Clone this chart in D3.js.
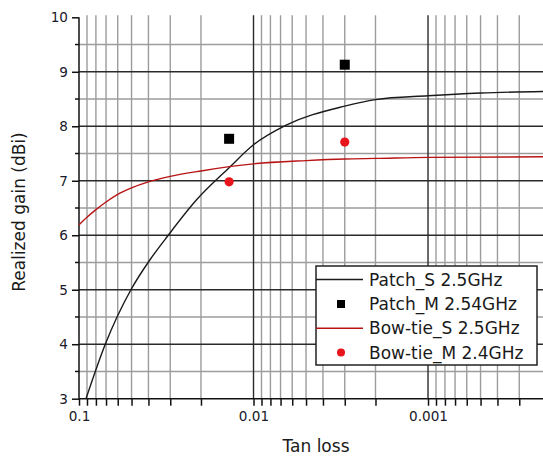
<!DOCTYPE html>
<html>
<head>
<meta charset="utf-8">
<script src="https://cdn.jsdelivr.net/npm/d3@7"></script>
<style>
  body { margin: 0; background: #fff; }
  svg { display: block; font-family: "DejaVu Sans", sans-serif; }
</style>
</head>
<body>
<div id="chart"></div>
<script>
// series (tan loss, realized gain in dBi)
var patchSTan = [0.0912, 0.0707, 0.0504, 0.0392, 0.0308, 0.0212, 0.0138, 0.01, 0.0065, 0.003, 0.002, 0.001, 0.0005, 0.0002];
var patchSGain = [3.0, 4.0, 5.0, 5.55, 6.0, 6.65, 7.24, 7.66, 8.02, 8.37, 8.49, 8.56, 8.61, 8.64];

var bowSTan = [0.1, 0.09, 0.08, 0.07, 0.06, 0.05, 0.04, 0.03, 0.02, 0.01, 0.005, 0.003, 0.002, 0.001, 0.0002];
var bowSGain = [6.19, 6.33, 6.47, 6.61, 6.75, 6.87, 6.98, 7.08, 7.18, 7.31, 7.37, 7.40, 7.41, 7.43, 7.44];

var patchMTan = [0.0138, 0.003];
var patchMGain = [7.77, 9.13];

var bowMTan = [0.0138, 0.003];
var bowMGain = [6.98, 7.71];

var yTicks = [3, 4, 5, 6, 7, 8, 9, 10];
var xMajor = [0.1, 0.01, 0.001];
var xLabels = ['0.1', '0.01', '0.001'];

var legendNames = ['Patch_S 2.5GHz', 'Patch_M 2.54GHz', 'Bow-tie_S 2.5GHz', 'Bow-tie_M 2.4GHz'];

var W = 543, H = 456;
var pLeft = 79, pTop = 17.3, pBottom = 398.7, pRight = 550;

var x = d3.scaleLog()
    .domain([0.1, 0.0002])
    .range([pLeft, pRight]);

var y = d3.scaleLinear()
    .domain([3, 10])
    .range([pBottom, pTop]);

var svg = d3.select('#chart').append('svg')
    .attr('width', W)
    .attr('height', H);

// minor tick values for x (2..9 in each decade)
var xMinor = x.ticks().filter(function (d) {
    var l = Math.log10(d);
    return Math.abs(l - Math.round(l)) > 1e-6;
});
var yMinor = d3.range(3.5, 10, 1);

var grid = svg.append('g');
grid.selectAll('line.vminor').data(xMinor)
    .enter().append('line')
    .attr('x1', function (d) { return x(d); })
    .attr('x2', function (d) { return x(d); })
    .attr('y1', pTop - 2).attr('y2', pBottom)
    .style('stroke', '#9c9c9c').style('stroke-width', 1.4);
grid.selectAll('line.hminor').data(yMinor)
    .enter().append('line')
    .attr('x1', pLeft).attr('x2', W)
    .attr('y1', function (d) { return y(d); })
    .attr('y2', function (d) { return y(d); })
    .style('stroke', '#9c9c9c').style('stroke-width', 1.4);
grid.selectAll('line.hmajor').data(yTicks.filter(function (d) { return d > 3 && d < 10; }))
    .enter().append('line')
    .attr('x1', pLeft).attr('x2', W)
    .attr('y1', function (d) { return y(d); })
    .attr('y2', function (d) { return y(d); })
    .style('stroke', '#2a2a2a').style('stroke-width', 1.4);
grid.selectAll('line.vmajor').data(xMajor.slice(1))
    .enter().append('line')
    .attr('x1', function (d) { return x(d); })
    .attr('x2', function (d) { return x(d); })
    .attr('y1', pTop - 2).attr('y2', pBottom)
    .style('stroke', '#2a2a2a').style('stroke-width', 1.4);

// axes
var yAxis = d3.axisLeft(y).tickValues(yTicks).tickSize(7).tickPadding(4).tickFormat(d3.format('d'));
var gy = svg.append('g').attr('transform', 'translate(' + pLeft + ',0)').call(yAxis);
gy.select('.domain').remove();
gy.append('line').attr('x1', 0).attr('x2', 0).attr('y1', pTop).attr('y2', pBottom)
    .style('stroke', '#111').style('stroke-width', 1.5);
gy.selectAll('.tick line').style('stroke', '#111').style('stroke-width', 1.5);
gy.selectAll('.minor').data(yMinor).enter().append('line')
    .attr('x1', -4).attr('x2', 0)
    .attr('y1', function (d) { return y(d); })
    .attr('y2', function (d) { return y(d); })
    .style('stroke', '#111').style('stroke-width', 1.5);

var xAxis = d3.axisBottom(x)
    .tickValues(xMajor.concat(xMinor.filter(function (d) { return x(d) < W; })))
    .tickSize(7).tickPadding(6)
    .tickFormat(function (d) {
        var i = xMajor.indexOf(d);
        return i >= 0 ? xLabels[i] : '';
    });
var gx = svg.append('g').attr('transform', 'translate(0,' + pBottom + ')').call(xAxis);
gx.select('.domain').remove();
gx.append('line').attr('x1', pLeft).attr('x2', W).attr('y1', 0).attr('y2', 0)
    .style('stroke', '#111').style('stroke-width', 1.5);
gx.selectAll('.tick line').style('stroke', '#111').style('stroke-width', 1.5);

svg.selectAll('.tick text')
    .style('font-family', '"DejaVu Sans", sans-serif')
    .style('font-size', '13.6px')
    .style('fill', '#1a1a2a');

// axis titles
svg.append('text')
    .attr('x', 316).attr('y', 452)
    .attr('text-anchor', 'middle')
    .style('font-size', '17px').style('fill', '#1a1a1a')
    .text('Tan loss');
svg.append('text')
    .attr('transform', 'translate(25,212) rotate(-90)')
    .attr('text-anchor', 'middle')
    .style('font-size', '17px').style('fill', '#1a1a1a')
    .text('Realized gain (dBi)');

// curves
var line = d3.line()
    .x(function (d) { return x(d[0]); })
    .y(function (d) { return y(d[1]); })
    .curve(d3.curveMonotoneX);

svg.append('path')
    .datum(d3.zip(patchSTan, patchSGain))
    .attr('d', line)
    .style('fill', 'none').style('stroke', '#1a1a1a').style('stroke-width', 1.4);

svg.append('path')
    .datum(d3.zip(bowSTan, bowSGain))
    .attr('d', line)
    .style('fill', 'none').style('stroke', '#b81414').style('stroke-width', 1.4);

// measured points
svg.selectAll('rect.pm').data(d3.zip(patchMTan, patchMGain))
    .enter().append('rect')
    .attr('x', function (d) { return x(d[0]) - 5; })
    .attr('y', function (d) { return y(d[1]) - 5; })
    .attr('width', 10).attr('height', 10)
    .style('fill', '#000');

svg.selectAll('circle.bm').data(d3.zip(bowMTan, bowMGain))
    .enter().append('circle')
    .attr('cx', function (d) { return x(d[0]); })
    .attr('cy', function (d) { return y(d[1]); })
    .attr('r', 4.6)
    .style('fill', '#e8141c');

// legend
var lg = svg.append('g');
lg.append('rect')
    .attr('x', 316).attr('y', 266).attr('width', 221).attr('height', 99)
    .style('fill', '#fff').style('stroke', '#222').style('stroke-width', 1.5);

var rowY = [279.5, 304, 328.2, 352.4];
lg.selectAll('text').data(legendNames)
    .enter().append('text')
    .attr('x', 369)
    .attr('y', function (d, i) { return rowY[i]; })
    .attr('dy', '0.36em')
    .style('font-size', '17px').style('fill', '#1a1a1a')
    .text(function (d) { return d; });

lg.append('line').attr('x1', 316).attr('x2', 363).attr('y1', rowY[0]).attr('y2', rowY[0])
    .style('stroke', '#1a1a1a').style('stroke-width', 1.4);
lg.append('rect').attr('x', 341 - 4).attr('y', rowY[1] - 4).attr('width', 8).attr('height', 8)
    .style('fill', '#000');
lg.append('line').attr('x1', 316).attr('x2', 363).attr('y1', rowY[2]).attr('y2', rowY[2])
    .style('stroke', '#b81414').style('stroke-width', 1.4);
lg.append('circle').attr('cx', 341).attr('cy', rowY[3]).attr('r', 4)
    .style('fill', '#e8141c');
</script>
</body>
</html>
